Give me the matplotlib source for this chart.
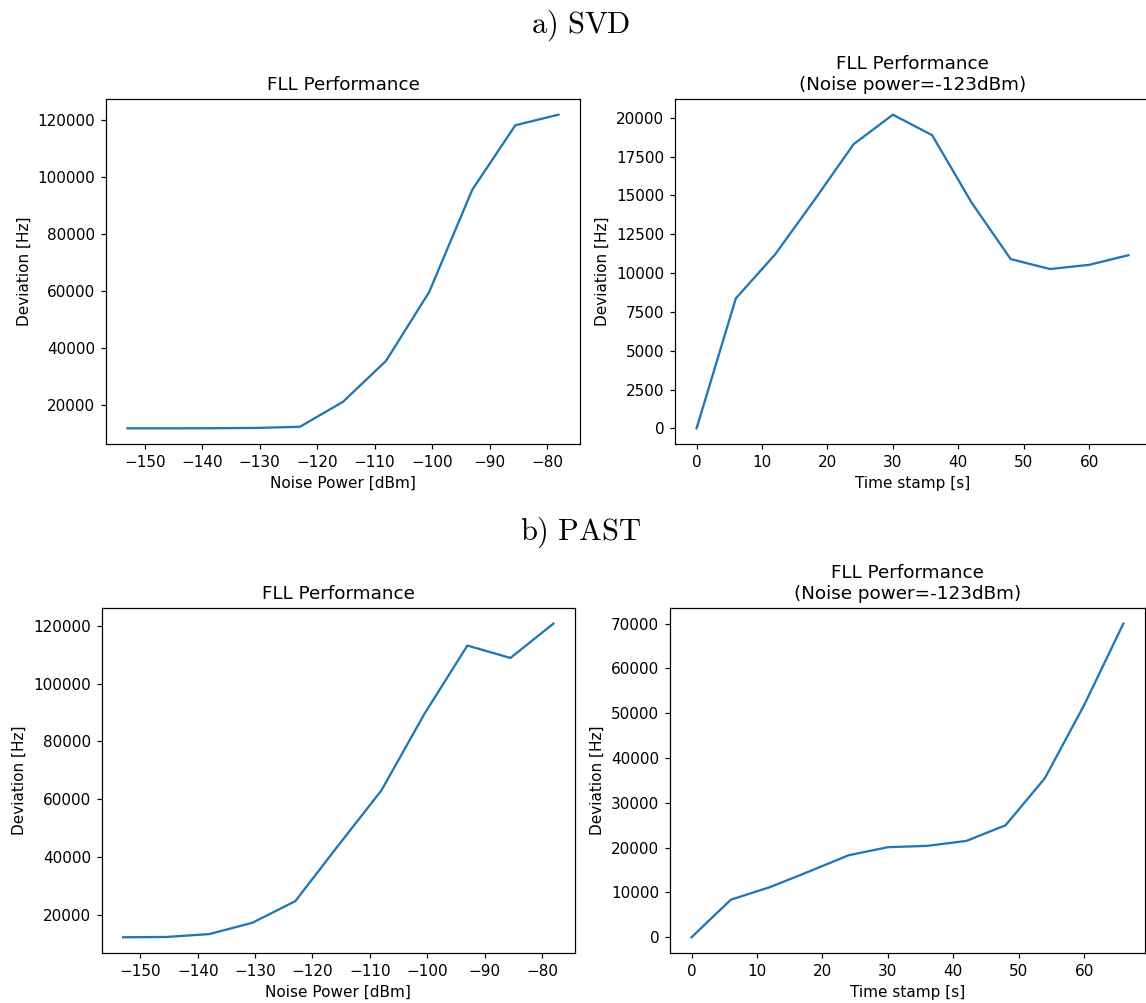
import matplotlib.pyplot as plt

# noise power sweep (dBm) and time stamps (s)
noise_power = [-153, -145.5, -138, -130.5, -123, -115.5, -108, -100.5, -93, -85.5, -78]
time_stamp = [0, 6, 12, 18, 24, 30, 36, 42, 48, 54, 60, 66]

# SVD results
svd_dev_noise = [11850, 11850, 11900, 12000, 12400, 21150, 35500, 59600, 95400, 118000, 121700]
svd_dev_time = [0, 8370, 11200, 14700, 18300, 20200, 18880, 14560, 10900, 10260, 10530, 11150]

# PAST results
past_dev_noise = [12200, 12300, 13300, 17200, 24700, 44000, 63000, 89500, 113200, 108900, 120800]
past_dev_time = [0, 8380, 11200, 14700, 18300, 20100, 20400, 21500, 25000, 35500, 51800, 70000]

plt.rcParams['mathtext.fontset'] = 'cm'

DPI = 110
fig = plt.figure(figsize=(1146 / DPI, 1003 / DPI), dpi=DPI)

def noise_plot(rect, dev):
    ax = fig.add_axes(rect)
    ax.plot(noise_power, dev)
    ax.set_title('FLL Performance')
    ax.set_xlabel('Noise Power [dBm]')
    ax.set_ylabel('Deviation [Hz]')
    return ax

def time_plot(rect, dev):
    ax = fig.add_axes(rect)
    ax.plot(time_stamp, dev)
    ax.set_title('FLL Performance\n(Noise power=-123dBm)')
    ax.set_xlabel('Time stamp [s]')
    ax.set_ylabel('Deviation [Hz]')
    return ax

noise_plot([0.0925, 0.5573, 0.4136, 0.344], svd_dev_noise)
time_plot([0.589, 0.5573, 0.4145, 0.344], svd_dev_time)
noise_plot([0.0887, 0.0499, 0.4130, 0.344], past_dev_noise)
time_plot([0.5846, 0.0499, 0.4145, 0.344], past_dev_time)

fig.text(0.507, 0.974, r'$\mathrm{a)\ SVD}$', fontsize=20, ha='center', va='center')
fig.text(0.507, 0.469, r'$\mathrm{b)\ PAST}$', fontsize=20, ha='center', va='center')

plt.savefig('out.png', dpi=DPI)
